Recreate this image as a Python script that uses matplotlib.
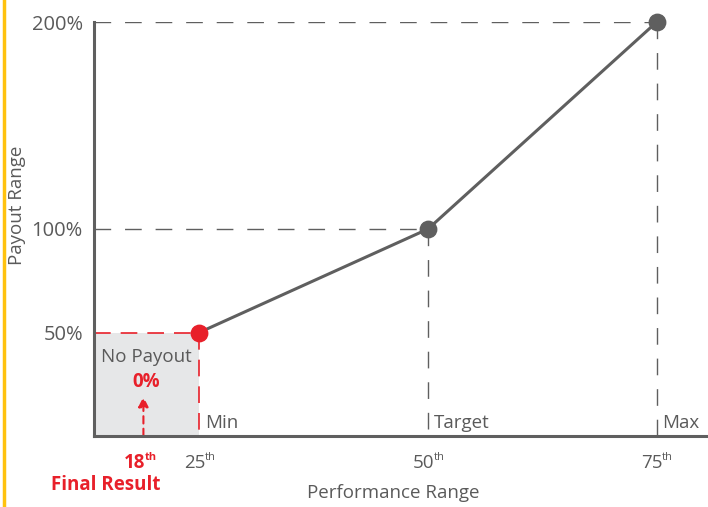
import matplotlib
matplotlib.use("Agg")
import matplotlib.pyplot as plt
from matplotlib.patches import Rectangle

plt.rcParams['font.family'] = ['Open Sans', 'DejaVu Sans']

# Payout curve
percentiles = [25, 50, 75]
payouts = [50, 100, 200]
point_names = ["Min", "Target", "Max"]
tick_numbers = ["25", "50", "75"]
y_ticks = [50, 100, 200]
y_tick_labels = ["50%", "100%", "200%"]
final_result = 18
final_payout = "0%"

GRAY = "#5f5f5f"
TXT = "#5a5a5a"
RED = "#e8202a"
SHADE = "#e6e7e8"
YELLOW = "#ffc20e"

fig = plt.figure(figsize=(7.08, 5.07), dpi=100)
ax = fig.add_axes([94 / 708, 71 / 507, 1 - 94 / 708, 414 / 507])
ax.set_xlim(13.5, 80.6)
ax.set_ylim(0, 200)

for s in ["top", "right"]:
    ax.spines[s].set_visible(False)
for s in ["left", "bottom"]:
    ax.spines[s].set_color(GRAY)
    ax.spines[s].set_linewidth(2.2)
    ax.spines[s].set_zorder(5)

ax.set_xticks([])
ax.set_yticks(y_ticks)
ax.set_yticklabels(y_tick_labels, fontsize=14.5, color=TXT)
ax.tick_params(axis="y", length=0, pad=8)

x0 = ax.get_xlim()[0]


def ordinal(x, y, number, color, weight="normal"):
    """Number with a small raised 'th', centred near x (data) at y (data)."""
    ax.annotate(number, (x, y), xytext=(4.5, 0), textcoords="offset points",
                fontsize=13.5, color=color, fontweight=weight,
                ha="right", va="center", annotation_clip=False)
    ax.annotate("th", (x, y), xytext=(4.0, 4), textcoords="offset points",
                fontsize=8, color=color, fontweight=weight,
                ha="left", va="center", annotation_clip=False)


# no-payout zone
ax.add_patch(Rectangle((x0, 0), percentiles[0] - x0, payouts[0],
                       facecolor=SHADE, edgecolor="none", zorder=1))

gray_dash = (0, (12, 10))
red_dash = (0, (10, 6))
# guide lines to the target and max points
for px, py in zip(percentiles[1:], payouts[1:]):
    ax.plot([x0, px], [py, py], color=GRAY, lw=1.0, ls=gray_dash, zorder=2)
    ax.plot([px, px], [py, 0], color=GRAY, lw=1.0, ls=gray_dash, zorder=2)
# threshold guides in red
ax.plot([x0, percentiles[0]], [payouts[0]] * 2, color=RED, lw=1.2, ls=red_dash, zorder=2)
ax.plot([percentiles[0]] * 2, [payouts[0], 0], color=RED, lw=1.2, ls=red_dash, zorder=2)

# payout line and points
ax.plot(percentiles, payouts, color=GRAY, lw=2.2, zorder=3)
ax.scatter(percentiles[1:], payouts[1:], s=140, color=GRAY, zorder=4, clip_on=False)
ax.scatter(percentiles[:1], payouts[:1], s=140, color=RED, zorder=4, clip_on=False)

# point names just above the axis
for px, name in zip(percentiles, point_names):
    ax.text(px + 0.6, 2, name, fontsize=13.5, color=TXT, ha="left", va="bottom")

# x tick labels
for px, num in zip(percentiles, tick_numbers):
    ordinal(px, -13, num, TXT)

# result arrow
ax.annotate("", xy=(final_result + 0.9, 19), xytext=(final_result + 0.9, 0),
            arrowprops=dict(arrowstyle="-|>,head_length=0.6,head_width=0.3",
                            color=RED, lw=1.5, ls=(0, (3.5, 2.5)), shrinkA=0, shrinkB=0),
            zorder=4)
ax.text((x0 + percentiles[0]) / 2, 38, "No Payout", fontsize=13.5, color=TXT,
        ha="center", va="center")
ax.text((x0 + percentiles[0]) / 2, 26, final_payout, fontsize=13.5, color=RED,
        fontweight="bold", ha="center", va="center")
ordinal(final_result + 0.4, -13, str(final_result), RED, weight="bold")
ax.text(x0 + 1.3, -23.5, "Final Result", fontsize=13.5, color=RED,
        fontweight="bold", ha="center", va="center", clip_on=False)

# axis titles
fig.text(393 / 708, 1 - 493 / 507, "Performance Range", fontsize=13.5, color=TXT,
         ha="center", va="center")
fig.text(17 / 708, 1 - 205 / 507, "Payout Range", fontsize=13.5, color=TXT,
         ha="center", va="center", rotation=90)

# accent bar on the left edge
fig.add_artist(plt.Line2D([3.5 / 708, 3.5 / 708], [0, 1], color=YELLOW, lw=2.5,
                          transform=fig.transFigure))

fig.savefig("out.png", dpi=100)
